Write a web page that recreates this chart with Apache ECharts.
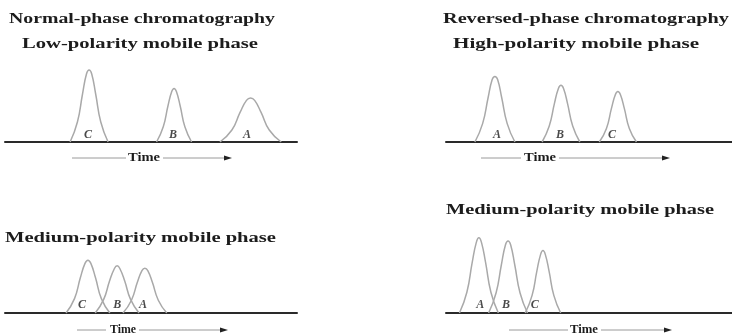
<!DOCTYPE html>
<html><head><meta charset="utf-8">
<script src="https://cdn.jsdelivr.net/npm/echarts@6/dist/echarts.min.js"></script>
<style>html,body{margin:0;padding:0;background:#fff}#c{width:732px;height:336px}</style>
</head><body><div id="c"></div>
<script>
// ---- data (time units 0..10, detector signal 0..100) ----
const panelTitles = ['Normal-phase chromatography', 'Reversed-phase chromatography'];
const panelSubtitles = ['Low-polarity mobile phase', 'High-polarity mobile phase', 'Medium-polarity mobile phase', 'Medium-polarity mobile phase'];
const timeLabel = 'Time';

// Panel 1: normal phase, low-polarity mobile phase (C, B, A)
const p1PeakC = [[2.23,0],[2.48,25],[2.655,60],[2.79,85],[2.88,90],[2.97,85],[3.105,60],[3.28,25],[3.53,0]];
const p1PeakB = [[5.19,0],[5.42,19],[5.58,45],[5.71,63],[5.79,67],[5.87,63],[6.00,45],[6.16,19],[6.39,0]];
const p1PeakA = [[7.36,0],[7.77,15],[8.05,37],[8.27,52],[8.41,55],[8.55,52],[8.77,37],[9.05,15],[9.46,0]];
const p1Labels = [[2.84,9,'C'],[5.75,9,'B'],[8.29,9,'A']];

// Panel 2: reversed phase, high-polarity mobile phase (A, B, C)
const p2PeakA = [[1.01,0],[1.28,23],[1.47,55],[1.615,78],[1.71,82],[1.805,78],[1.95,55],[2.14,23],[2.41,0]];
const p2PeakB = [[3.36,0],[3.61,20],[3.79,48],[3.93,67],[4.02,71],[4.11,67],[4.25,48],[4.43,20],[4.68,0]];
const p2PeakC = [[5.36,0],[5.61,17],[5.785,42],[5.92,59],[6.01,63],[6.10,59],[6.235,42],[6.41,17],[6.66,0]];
const p2Labels = [[1.78,9,'A'],[3.99,9,'B'],[5.80,9,'C']];

// Panel 3: normal phase, medium-polarity mobile phase (C, B, A)
const p3PeakC = [[2.09,0],[2.38,18],[2.58,44],[2.74,62],[2.84,66],[2.94,62],[3.10,44],[3.30,18],[3.59,0]];
const p3PeakB = [[3.09,0],[3.38,17],[3.58,40],[3.74,55],[3.84,59],[3.94,55],[4.10,40],[4.30,17],[4.59,0]];
const p3PeakA = [[4.04,0],[4.33,16],[4.53,38],[4.69,53],[4.79,56],[4.89,53],[5.05,38],[5.25,16],[5.54,0]];
const p3Labels = [[2.64,10,'C'],[3.84,10,'B'],[4.73,10,'A']];

// Panel 4: reversed phase, medium-polarity mobile phase (A, B, C)
const p4PeakA = [[0.47,0],[0.73,26],[0.915,63],[1.058,88],[1.15,94],[1.242,88],[1.385,63],[1.57,26],[1.83,0]];
const p4PeakB = [[1.49,0],[1.75,25],[1.935,60],[2.078,85],[2.17,90],[2.262,85],[2.405,60],[2.59,25],[2.85,0]];
const p4PeakC = [[2.77,0],[3.01,22],[3.175,52],[3.306,73],[3.39,78],[3.474,73],[3.605,52],[3.77,22],[4.01,0]];
const p4Labels = [[1.2,10,'A'],[2.1,10,'B'],[3.1,10,'C']];

// ---- layout ----
const grids = [
  {left:5, top:62, width:292, height:80},
  {left:446, top:62, width:286, height:80},
  {left:5, top:233, width:292, height:80},
  {left:446, top:233, width:286, height:80}
];
const peaksByPanel = [[p1PeakC,p1PeakB,p1PeakA],[p2PeakA,p2PeakB,p2PeakC],[p3PeakC,p3PeakB,p3PeakA],[p4PeakA,p4PeakB,p4PeakC]];
const labelsByPanel = [p1Labels,p2Labels,p3Labels,p4Labels];

const FAM = "'Liberation Serif','DejaVu Serif',serif";
const TXT = '#1c1c1c';
const cv = document.createElement('canvas').getContext('2d');
function textEl(str, x, y, size, targetW, weight) {
  const font = (weight||'bold') + ' ' + size + 'px ' + FAM;
  cv.font = font;
  const w = cv.measureText(str).width;
  return {type:'text', x:x, y:y, scaleX: targetW / w, silent:true,
    style:{text:str, font:font, fill:TXT, textAlign:'left', textVerticalAlign:'middle'}};
}
function timeArrow(x1, x2, tx, tw, x3, x4, y) {
  return [
    {type:'line', shape:{x1:x1,y1:y,x2:x2,y2:y}, style:{stroke:'#9a9a9a', lineWidth:1}, silent:true},
    textEl(timeLabel, tx, y, 13, tw),
    {type:'line', shape:{x1:x3,y1:y,x2:x4-5,y2:y}, style:{stroke:'#9a9a9a', lineWidth:1}, silent:true},
    {type:'polygon', shape:{points:[[x4-8,y-2.5],[x4,y],[x4-8,y+2.5]]}, style:{fill:'#222'}, silent:true}
  ];
}

const graphic = [
  textEl(panelTitles[0], 9, 19, 14, 266),
  textEl(panelSubtitles[0], 22, 44, 14, 236),
  textEl(panelTitles[1], 443, 19, 14, 286),
  textEl(panelSubtitles[1], 453, 44, 14, 246),
  textEl(panelSubtitles[2], 5, 238, 14, 271),
  textEl(panelSubtitles[3], 446, 210, 14, 268)
].concat(
  timeArrow(72, 126, 128, 32, 163, 232, 158),
  timeArrow(481, 521, 524, 32, 559, 670, 158),
  timeArrow(77, 106, 110, 26, 139, 228, 330),
  timeArrow(509, 568, 570, 28, 601, 672, 330)
);

const xAxis = [], yAxis = [], series = [];
grids.forEach((g, i) => {
  xAxis.push({type:'value', gridIndex:i, min:0, max:10, axisLine:{show:true, onZero:false, lineStyle:{color:'#2a2a2a', width:2}},
    axisTick:{show:false}, axisLabel:{show:false}, splitLine:{show:false}});
  yAxis.push({type:'value', gridIndex:i, min:0, max:100, show:false});
  peaksByPanel[i].forEach(pk => {
    series.push({type:'line', xAxisIndex:i, yAxisIndex:i, data:pk, smooth:0.5, showSymbol:false, silent:true,
      lineStyle:{color:'#a9a9a9', width:1.5}, z:2});
  });
  series.push({type:'scatter', xAxisIndex:i, yAxisIndex:i, data:labelsByPanel[i], symbolSize:1, silent:true,
    itemStyle:{color:'transparent'},
    label:{show:true, position:'inside', formatter:p => p.value[2], fontFamily:FAM, fontStyle:'italic', fontWeight:'bold', fontSize:12, color:TXT}});
});

const chart = echarts.init(document.getElementById('c'), null, {renderer:'canvas'});
chart.setOption({backgroundColor:'#ffffff', animation:false, grid:grids, xAxis:xAxis, yAxis:yAxis, series:series, graphic:graphic});
</script></body></html>
